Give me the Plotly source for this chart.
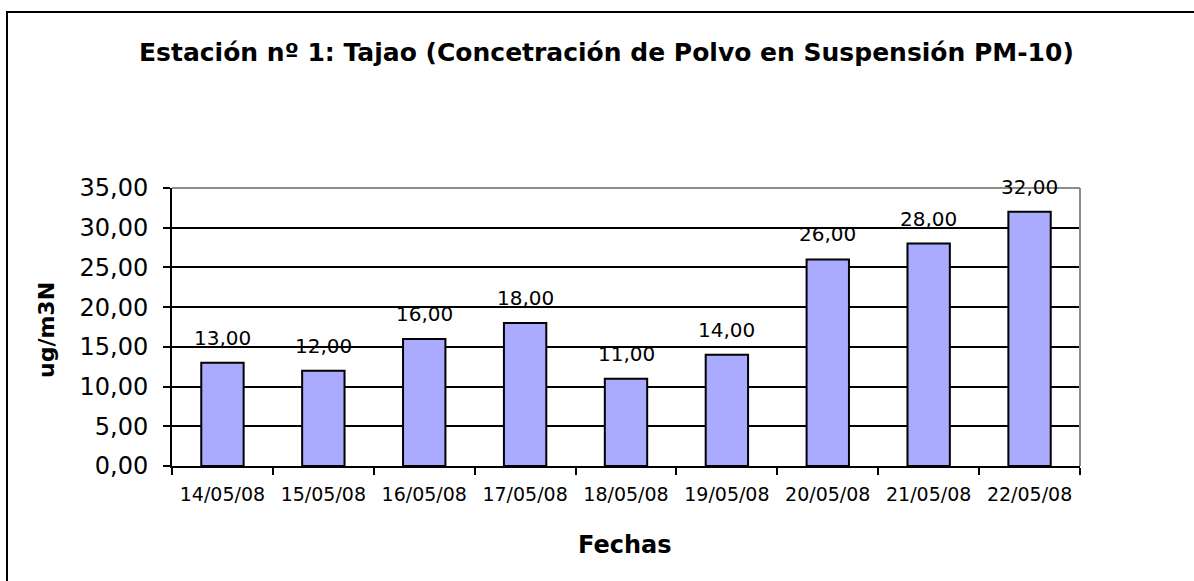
import plotly.graph_objects as go

fechas = ["14/05/08", "15/05/08", "16/05/08", "17/05/08", "18/05/08",
          "19/05/08", "20/05/08", "21/05/08", "22/05/08"]
valores = [13.0, 12.0, 16.0, 18.0, 11.0, 14.0, 26.0, 28.0, 32.0]
titulo = "Estación nº 1: Tajao (Concetración de Polvo en Suspensión PM-10)"
y_titulo = "ug/m3N"
x_titulo = "Fechas"

W, H = 1194, 581
L, R, T, B = 172, 1080, 188, 466
pw, ph = R - L, B - T

def px(x):
    return (x - L) / pw

def py(y):
    return (B - y) / ph

FONT = "DejaVu Sans, Liberation Sans, Arial, sans-serif"

fig = go.Figure(go.Bar(
    x=fechas, y=valores, width=0.42,
    marker=dict(color="#AAAAFF", line=dict(color="black", width=2)),
    cliponaxis=False, hoverinfo="x+y",
))

# data labels above bars
for f, v in zip(fechas, valores):
    fig.add_annotation(x=f, y=v, xref="x", yref="y", text=f"{v:.2f}".replace(".", ","),
                       showarrow=False, yanchor="bottom", xanchor="center", yshift=11,
                       font=dict(family=FONT, size=20, color="black"))

fig.update_layout(
    width=W, height=H,
    margin=dict(l=L, r=W - R, t=T, b=H - B),
    paper_bgcolor="white", plot_bgcolor="white",
    separators=",.",
    showlegend=False,
    font=dict(family=FONT, color="black"),
    xaxis=dict(
        type="category", showgrid=False, showline=True, linecolor="black", linewidth=2,
        ticks="outside", tickson="boundaries", ticklen=7, tickwidth=2, tickcolor="black",
        tickfont=dict(family=FONT, size=19, color="black"), ticklabelstandoff=10,
    ),
    yaxis=dict(
        range=[0, 35], dtick=5, tickformat=".2f",
        showgrid=True, gridcolor="black", gridwidth=2,
        showline=True, linecolor="black", linewidth=2, zeroline=False,
        ticks="outside", ticklen=7, tickwidth=2, tickcolor="black",
        tickfont=dict(family=FONT, size=24, color="black"), ticklabelstandoff=10,
    ),
    bargap=0.58,
)

# gray frame top/right of plot area
fig.add_shape(type="line", xref="paper", yref="paper", x0=0, x1=1, y0=1, y1=1,
              line=dict(color="#8C8C8C", width=2))
fig.add_shape(type="line", xref="paper", yref="paper", x0=1, x1=1, y0=0, y1=1,
              line=dict(color="#8C8C8C", width=2))
# outer chart border (extends beyond image on right and bottom)
fig.add_shape(type="rect", xref="paper", yref="paper",
              x0=px(7), x1=px(1210), y0=py(600), y1=py(12),
              line=dict(color="black", width=2), fillcolor="rgba(0,0,0,0)", layer="below")

fig.add_annotation(text=f"<b>{titulo}</b>", xref="paper", yref="paper",
                   x=px(606), y=py(53), xanchor="center", yanchor="middle",
                   showarrow=False, font=dict(family=FONT, size=25, color="black"))
fig.add_annotation(text=f"<b>{y_titulo}</b>", xref="paper", yref="paper",
                   x=px(46), y=py(330), xanchor="center", yanchor="middle", textangle=-90,
                   showarrow=False, font=dict(family=FONT, size=22, color="black"))
fig.add_annotation(text=f"<b>{x_titulo}</b>", xref="paper", yref="paper",
                   x=px(625), y=py(545), xanchor="center", yanchor="middle",
                   showarrow=False, font=dict(family=FONT, size=24, color="black"))

fig.write_html("out.html", config={"displayModeBar": False},
               post_script="document.body.style.margin='0px';document.body.style.overflow='hidden';")
